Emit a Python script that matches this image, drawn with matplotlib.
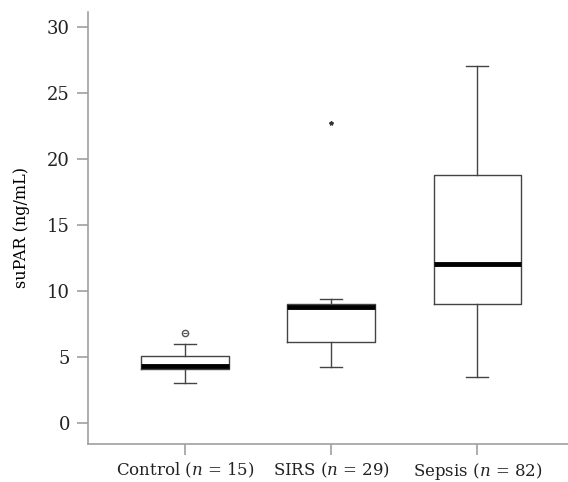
import matplotlib
matplotlib.use("Agg")
import matplotlib.pyplot as plt

# groups and box statistics (ng/mL)
labels = ["Control ($n$ = 15)", "SIRS ($n$ = 29)", "Sepsis ($n$ = 82)"]
whisker_low = [3.0, 4.2, 3.5]
q1 = [4.1, 6.1, 9.0]
medians = [4.3, 8.8, 12.0]
q3 = [5.05, 9.0, 18.75]
whisker_high = [5.95, 9.4, 27.0]
outliers = [[6.8], [22.7], []]
outlier_marker = ["o", "*", "o"]

plt.rcParams["font.family"] = ["DejaVu Serif"]
plt.rcParams["mathtext.fontset"] = "dejavuserif"

fig = plt.figure(figsize=(5.68, 4.82), dpi=100)
ax = fig.add_axes([0.155, 0.079, 0.845, 0.896])

stats = []
for i in range(len(labels)):
    stats.append({
        "whislo": whisker_low[i], "q1": q1[i], "med": medians[i],
        "q3": q3[i], "whishi": whisker_high[i], "fliers": [],
        "label": labels[i],
    })

grey = "#444444"
ax.bxp(stats, positions=[1, 2, 3], widths=0.6, showfliers=False,
       boxprops=dict(color=grey, linewidth=1.0),
       whiskerprops=dict(color=grey, linewidth=1.0),
       capprops=dict(color=grey, linewidth=1.0),
       medianprops=dict(color="black", linewidth=3.5, solid_capstyle="butt"),
       capwidths=0.15)

for i, pts in enumerate(outliers):
    if not pts:
        continue
    if outlier_marker[i] == "o":
        ax.plot([i + 1] * len(pts), pts, "o", mfc="none", mec="#555555",
                ms=4.5, mew=1.0)
        ax.plot([i + 1] * len(pts), pts, "_", color="#555555", ms=3.5, mew=0.8)
    else:
        ax.plot([i + 1] * len(pts), pts, "*", color="#333333", ms=3)

ax.set_xlim(0.335, 3.62)
ax.set_ylim(-1.6, 31.1)
ax.set_yticks([0, 5, 10, 15, 20, 25, 30])
ax.set_ylabel("suPAR (ng/mL)", fontsize=11.5, labelpad=12)

for side in ["top", "right"]:
    ax.spines[side].set_visible(False)
for side in ["left", "bottom"]:
    ax.spines[side].set_color("#a0a0a0")
    ax.spines[side].set_linewidth(1.2)
ax.tick_params(axis="both", colors="#a0a0a0", length=8, width=1.2,
               labelcolor="#222222", labelsize=13, pad=5)
ax.tick_params(axis="x", labelsize=12, pad=4)

fig.savefig("out.png", dpi=100)
